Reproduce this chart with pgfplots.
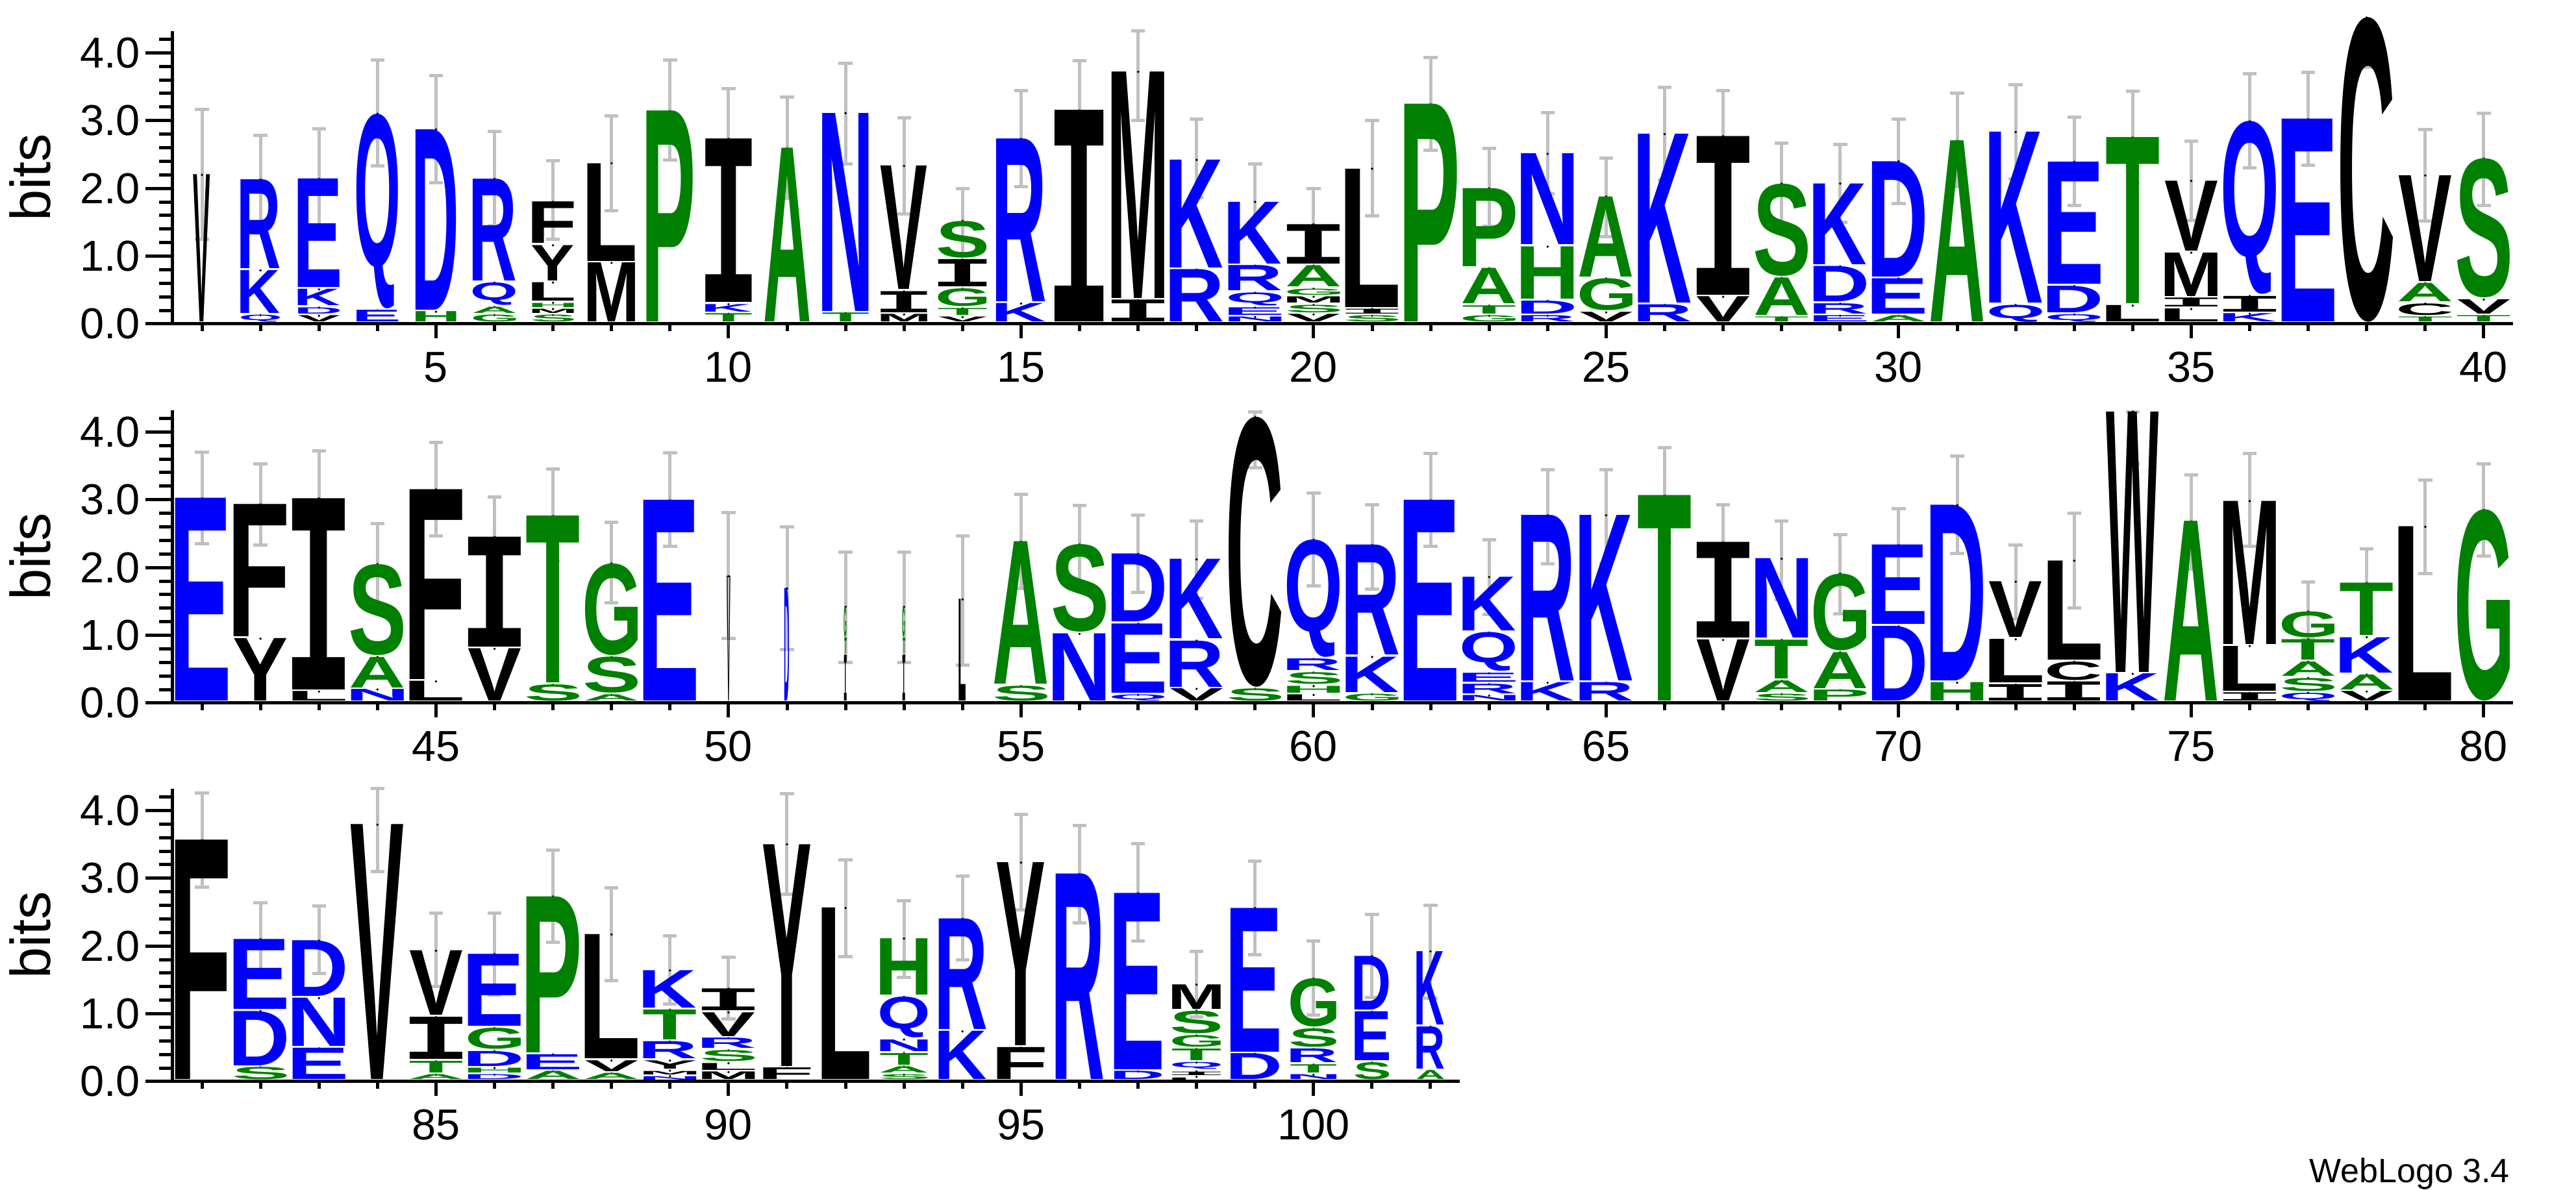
\documentclass[border=0pt]{standalone}
\usepackage{fontspec}
\setmainfont{Liberation Sans}
\newfontfamily\logofont{Liberation Sans}
\newfontfamily\logomono{Liberation Mono}
\usepackage{graphicx}
\usepackage{pgfplots}
\usepackage{pgfplotstable}
\pgfplotsset{compat=1.18}

\definecolor{lgreen}{RGB}{0,128,0}
\definecolor{lblue}{RGB}{0,0,255}
\definecolor{lblack}{RGB}{0,0,0}
\definecolor{ebgray}{RGB}{192,192,192}
\colorlet{lcA}{lgreen}\colorlet{lcG}{lgreen}\colorlet{lcH}{lgreen}
\colorlet{lcP}{lgreen}\colorlet{lcS}{lgreen}\colorlet{lcT}{lgreen}
\colorlet{lcD}{lblue}\colorlet{lcE}{lblue}\colorlet{lcK}{lblue}
\colorlet{lcN}{lblue}\colorlet{lcQ}{lblue}\colorlet{lcR}{lblue}
\colorlet{lcC}{lblack}\colorlet{lcF}{lblack}\colorlet{lcI}{lblack}
\colorlet{lcL}{lblack}\colorlet{lcM}{lblack}\colorlet{lcV}{lblack}
\colorlet{lcW}{lblack}\colorlet{lcY}{lblack}

\newlength\bitunit \setlength\bitunit{15.66pt}
\newlength\colw \setlength\colw{12.15pt}
\newsavebox\LLbox
% one stretched letter: letter, width factor, height (bits)
\newcommand\LL[3]{%
  \begingroup
  \ifx I#1\logomono\else\logofont\fi\bfseries
  \color{lc#1}%
  \sbox\LLbox{\kern-\XeTeXglyphbounds1 \XeTeXcharglyph`#1\relax #1\kern-\XeTeXglyphbounds3 \XeTeXcharglyph`#1\relax}%
  \resizebox*{#2\colw}{\dimexpr#3\bitunit-0.45pt\relax}{\usebox\LLbox}%
  \endgroup}
% one letter of a stack: position, top of letter (bits), letter, width factor, height (bits)
\newcommand\LT[5]{\addplot[lt, nodes near coords={\LL{#3}{#4}{#5}}] coordinates {(#1,#2)};}

% error bars: position, centre, half length (bits)
\pgfplotstableread{
x y e
1 2.21 0.96
2 2.13 0.65
3 2.155 0.725
4 3.11 0.78
5 2.87 0.79
6 2.145 0.695
7 1.83 0.58
8 2.37 0.70
9 3.155 0.735
10 2.73 0.74
11 2.60 0.75
12 3.105 0.745
13 2.33 0.71
14 1.515 0.485
15 2.735 0.705
16 3.165 0.715
17 3.66 0.66
18 2.44 0.58
19 1.815 0.545
20 1.495 0.505
21 2.295 0.705
22 3.245 0.685
23 2.015 0.575
24 2.52 0.60
25 1.87 0.58
26 2.805 0.685
27 2.775 0.665
28 2.075 0.595
29 2.075 0.575
30 2.40 0.62
31 2.715 0.685
32 2.835 0.695
33 2.40 0.65
34 2.75 0.68
35 2.115 0.585
36 2.995 0.695
37 3.025 0.685
38 4.05 0.26
39 2.195 0.675
40 2.43 0.68
}\eA

\pgfplotstableread{
x y e
41 3.025 0.675
42 2.93 0.60
43 3.025 0.695
44 2.055 0.595
45 3.16 0.69
46 2.455 0.585
47 2.77 0.68
48 2.075 0.595
49 3.00 0.69
50 1.88 0.93
51 1.695 0.905
52 1.415 0.815
53 1.415 0.815
54 1.515 0.955
55 2.385 0.695
56 2.345 0.575
57 2.20 0.57
58 2.12 0.57
59 3.885 0.415
60 2.415 0.685
61 2.305 0.625
62 2.995 0.685
63 1.86 0.55
64 2.745 0.695
65 2.745 0.695
66 3.07 0.70
67 2.36 0.57
68 2.11 0.58
69 1.905 0.585
70 2.315 0.555
71 2.925 0.715
72 1.785 0.545
73 2.10 0.70
74 3.915 0.385
75 2.675 0.695
76 2.995 0.685
77 1.365 0.425
78 1.765 0.505
79 2.60 0.69
80 2.85 0.68
}\eB

\pgfplotstableread{
x y e
81 3.565 0.695
82 2.095 0.545
83 2.09 0.50
84 3.71 0.61
85 1.945 0.545
86 1.885 0.605
87 2.73 0.68
88 2.175 0.685
89 1.645 0.505
90 1.375 0.455
91 3.505 0.745
92 2.555 0.715
93 2.105 0.565
94 2.415 0.615
95 3.235 0.705
96 3.06 0.72
97 2.79 0.72
98 1.435 0.485
99 2.56 0.69
100 1.525 0.545
101 1.855 0.615
102 1.915 0.685
}\eC

\pgfplotsset{
  logoaxis/.style={
    anchor=south west, scale only axis, height=67.65pt,
    ymin=0, ymax=4.32, clip=false,
    axis x line*=bottom, axis y line*=left,
    axis line style={line width=0.75pt, black},
    ytick={0,1,2,3,4}, yticklabels={0.0,1.0,2.0,3.0,4.0},
    minor ytick={0,0.2,...,4.21},
    tick align=outside,
    major tick length=6.3pt, minor tick length=3.15pt,
    xtick style={/pgfplots/major tick length=3.3pt,/pgfplots/minor tick length=1.7pt},
    tick style={line width=0.75pt, black},
    ticklabel style={font=\fontsize{10}{10}\selectfont},
    /pgf/number format/assume math mode=true,
    xticklabel style={inner sep=0pt},
    yticklabel style={inner sep=0pt, xshift=-1pt},
    ylabel={bits},
    every axis y label/.style={rotate=90, anchor=south, font=\fontsize{13}{13}\selectfont},
  },
  lt/.style={
    only marks, mark=*, mark size=0.01pt, mark options={draw=none, fill=none},
    every node near coord/.append style={anchor=north, inner sep=0pt, outer sep=0pt},
  },
  ebars/.style={
    draw=none, mark=none,
    error bars/.cd, y dir=both, y explicit, error mark=-,
    error bar style={draw=ebgray, line width=0.75pt},
    error mark options={rotate=90, draw=ebgray, line width=0.75pt, mark size=1.6pt},
  },
}

\begin{document}
\begin{tikzpicture}
\useasboundingbox (0,0) rectangle (595.05pt,274.95pt);

\begin{axis}[logoaxis, at={(39.9pt,200.1pt)}, width=540.6pt,
  xmin=0.5, xmax=40.5, xtick={5,10,...,40}, minor xtick={1,...,40},
  ylabel style={at={(axis description cs:-0.0455,0.5)}}]
\LT{1}{2.20}{V}{0.32}{2.20}
\LT{2}{0.13}{Q}{0.74}{0.13}
\LT{2}{0.79}{K}{0.74}{0.66}
\LT{2}{2.13}{R}{0.74}{1.34}
\LT{3}{0.12}{V}{0.79}{0.12}
\LT{3}{0.24}{D}{0.79}{0.12}
\LT{3}{0.51}{K}{0.79}{0.27}
\LT{3}{2.14}{E}{0.79}{1.63}
\LT{4}{0.20}{E}{0.79}{0.20}
\LT{4}{3.10}{Q}{0.79}{2.90}
\LT{5}{0.18}{H}{0.77}{0.18}
\LT{5}{2.87}{D}{0.77}{2.69}
\LT{6}{0.13}{G}{0.81}{0.13}
\LT{6}{0.25}{A}{0.81}{0.12}
\LT{6}{0.61}{Q}{0.81}{0.36}
\LT{6}{2.14}{R}{0.81}{1.53}
\LT{7}{0.13}{S}{0.79}{0.13}
\LT{7}{0.22}{M}{0.79}{0.09}
\LT{7}{0.31}{H}{0.79}{0.09}
\LT{7}{0.61}{L}{0.79}{0.30}
\LT{7}{1.16}{Y}{0.79}{0.55}
\LT{7}{1.80}{F}{0.79}{0.64}
\LT{8}{0.90}{M}{0.90}{0.90}
\LT{8}{2.37}{L}{0.90}{1.47}
\LT{9}{3.14}{P}{0.88}{3.14}
\LT{10}{0.15}{T}{0.88}{0.15}
\LT{10}{0.29}{K}{0.88}{0.14}
\LT{10}{2.73}{I}{0.88}{2.44}
\LT{11}{2.59}{A}{0.85}{2.59}
\LT{12}{0.16}{T}{0.88}{0.16}
\LT{12}{3.11}{N}{0.88}{2.95}
\LT{13}{0.14}{M}{0.88}{0.14}
\LT{13}{0.48}{I}{0.88}{0.34}
\LT{13}{2.33}{V}{0.88}{1.85}
\LT{14}{0.10}{V}{0.92}{0.10}
\LT{14}{0.23}{T}{0.92}{0.13}
\LT{14}{0.52}{G}{0.92}{0.29}
\LT{14}{0.95}{I}{0.92}{0.43}
\LT{14}{1.52}{S}{0.92}{0.57}
\LT{15}{0.30}{K}{0.93}{0.30}
\LT{15}{2.73}{R}{0.93}{2.43}
\LT{16}{3.15}{I}{0.93}{3.15}
\LT{17}{0.35}{I}{1}{0.35}
\LT{17}{3.72}{M}{1}{3.37}
\LT{18}{0.80}{R}{1}{0.80}
\LT{18}{2.42}{K}{1}{1.62}
\LT{19}{0.10}{N}{1}{0.10}
\LT{19}{0.24}{E}{1}{0.14}
\LT{19}{0.46}{Q}{1}{0.22}
\LT{19}{0.86}{R}{1}{0.40}
\LT{19}{1.80}{K}{1}{0.94}
\LT{20}{0.14}{V}{1}{0.14}
\LT{20}{0.28}{S}{1}{0.14}
\LT{20}{0.40}{M}{1}{0.12}
\LT{20}{0.52}{G}{1}{0.12}
\LT{20}{0.86}{A}{1}{0.34}
\LT{20}{1.47}{I}{1}{0.61}
\LT{21}{0.12}{S}{1}{0.12}
\LT{21}{0.22}{I}{1}{0.10}
\LT{21}{2.29}{L}{1}{2.07}
\LT{22}{3.24}{P}{1}{3.24}
\LT{23}{0.12}{G}{1}{0.12}
\LT{23}{0.27}{T}{1}{0.15}
\LT{23}{0.82}{A}{1}{0.55}
\LT{23}{2.00}{P}{1}{1.18}
\LT{24}{0.12}{R}{1}{0.12}
\LT{24}{0.34}{D}{1}{0.22}
\LT{24}{1.14}{H}{1}{0.80}
\LT{24}{2.51}{N}{1}{1.37}
\LT{25}{0.17}{V}{1}{0.17}
\LT{25}{0.67}{G}{1}{0.50}
\LT{25}{1.88}{A}{1}{1.21}
\LT{26}{0.28}{R}{1}{0.28}
\LT{26}{2.80}{K}{1}{2.52}
\LT{27}{0.40}{V}{1}{0.40}
\LT{27}{2.77}{I}{1}{2.37}
\LT{28}{0.10}{T}{1}{0.10}
\LT{28}{0.68}{A}{1}{0.58}
\LT{28}{2.07}{S}{1}{1.39}
\LT{29}{0.12}{E}{1}{0.12}
\LT{29}{0.30}{R}{1}{0.18}
\LT{29}{0.85}{D}{1}{0.55}
\LT{29}{2.07}{K}{1}{1.22}
\LT{30}{0.12}{A}{1}{0.12}
\LT{30}{0.67}{E}{1}{0.55}
\LT{30}{2.40}{D}{1}{1.73}
\LT{31}{2.70}{A}{1}{2.70}
\LT{32}{0.28}{Q}{1}{0.28}
\LT{32}{2.83}{K}{1}{2.55}
\LT{33}{0.14}{Q}{1}{0.14}
\LT{33}{0.56}{D}{1}{0.42}
\LT{33}{2.39}{E}{1}{1.83}
\LT{34}{0.27}{L}{1}{0.27}
\LT{34}{2.75}{T}{1}{2.48}
\LT{35}{0.22}{L}{1}{0.22}
\LT{35}{0.38}{I}{1}{0.16}
\LT{35}{1.05}{M}{1}{0.67}
\LT{35}{2.11}{V}{1}{1.06}
\LT{36}{0.15}{K}{1}{0.15}
\LT{36}{0.41}{I}{1}{0.26}
\LT{36}{2.99}{Q}{1}{2.58}
\LT{37}{3.02}{E}{1}{3.02}
\LT{38}{4.52}{C}{1}{4.52}
\LT{39}{0.10}{T}{1}{0.10}
\LT{39}{0.30}{C}{1}{0.20}
\LT{39}{0.60}{A}{1}{0.30}
\LT{39}{2.19}{V}{1}{1.59}
\LT{40}{0.12}{T}{1}{0.12}
\LT{40}{0.36}{V}{1}{0.24}
\LT{40}{2.44}{S}{1}{2.08}
\addplot[ebars] table[x=x, y=y, y error=e] {\eA};
\end{axis}

\begin{axis}[logoaxis, at={(39.9pt,112.5pt)}, width=540.6pt,
  xmin=40.5, xmax=80.5, xtick={45,50,...,80}, minor xtick={41,...,80},
  ylabel style={at={(axis description cs:-0.0455,0.5)}}]
\LT{41}{3.02}{E}{1}{3.02}
\LT{42}{0.95}{Y}{1}{0.95}
\LT{42}{2.93}{F}{1}{1.98}
\LT{43}{0.17}{L}{1}{0.17}
\LT{43}{3.02}{I}{1}{2.85}
\LT{44}{0.20}{N}{1}{0.20}
\LT{44}{0.68}{A}{1}{0.48}
\LT{44}{2.05}{S}{1}{1.37}
\LT{45}{0.32}{L}{1}{0.32}
\LT{45}{3.15}{F}{1}{2.83}
\LT{46}{0.80}{V}{1}{0.80}
\LT{46}{2.45}{I}{1}{1.65}
\LT{47}{0.27}{S}{1}{0.27}
\LT{47}{2.76}{T}{1}{2.49}
\LT{48}{0.12}{A}{1}{0.12}
\LT{48}{0.68}{S}{1}{0.56}
\LT{48}{2.06}{G}{1}{1.38}
\LT{49}{2.99}{E}{1}{2.99}
\LT{50}{1.87}{V}{0.07}{1.87}
\LT{51}{1.69}{D}{0.09}{1.69}
\LT{52}{0.70}{I}{0.05}{0.70}
\LT{52}{0.95}{T}{0.05}{0.25}
\LT{52}{1.42}{G}{0.05}{0.47}
\LT{53}{0.70}{I}{0.05}{0.70}
\LT{53}{0.95}{T}{0.05}{0.25}
\LT{53}{1.42}{G}{0.05}{0.47}
\LT{54}{1.53}{L}{0.13}{1.53}
\LT{55}{0.25}{S}{1}{0.25}
\LT{55}{2.38}{A}{1}{2.13}
\LT{56}{1.02}{N}{1}{1.02}
\LT{56}{2.34}{S}{1}{1.32}
\LT{57}{0.12}{Q}{1}{0.12}
\LT{57}{1.17}{E}{1}{1.05}
\LT{57}{2.20}{D}{1}{1.03}
\LT{58}{0.21}{V}{1}{0.21}
\LT{58}{0.92}{R}{1}{0.71}
\LT{58}{2.12}{K}{1}{1.20}
\LT{59}{0.21}{S}{1}{0.21}
\LT{59}{4.22}{C}{1}{4.01}
\LT{60}{0.12}{L}{1}{0.12}
\LT{60}{0.25}{H}{1}{0.13}
\LT{60}{0.45}{S}{1}{0.20}
\LT{60}{0.65}{R}{1}{0.20}
\LT{60}{2.41}{Q}{1}{1.76}
\LT{61}{0.13}{G}{1}{0.13}
\LT{61}{0.68}{K}{1}{0.55}
\LT{61}{2.33}{R}{1}{1.65}
\LT{62}{2.99}{E}{1}{2.99}
\LT{63}{0.11}{N}{1}{0.11}
\LT{63}{0.28}{R}{1}{0.17}
\LT{63}{0.44}{E}{1}{0.16}
\LT{63}{1.04}{Q}{1}{0.60}
\LT{63}{1.86}{K}{1}{0.82}
\LT{64}{0.30}{K}{1}{0.30}
\LT{64}{2.77}{R}{1}{2.47}
\LT{65}{0.30}{R}{1}{0.30}
\LT{65}{2.77}{K}{1}{2.47}
\LT{66}{3.06}{T}{1}{3.06}
\LT{67}{0.93}{V}{1}{0.93}
\LT{67}{2.37}{I}{1}{1.44}
\LT{68}{0.13}{S}{1}{0.13}
\LT{68}{0.33}{A}{1}{0.20}
\LT{68}{0.93}{T}{1}{0.60}
\LT{68}{2.13}{N}{1}{1.20}
\LT{69}{0.19}{P}{1}{0.19}
\LT{69}{0.75}{A}{1}{0.56}
\LT{69}{1.91}{G}{1}{1.16}
\LT{70}{1.13}{D}{1}{1.13}
\LT{70}{2.33}{E}{1}{1.20}
\LT{71}{0.30}{H}{1}{0.30}
\LT{71}{2.92}{D}{1}{2.62}
\LT{72}{0.27}{I}{1}{0.27}
\LT{72}{0.94}{L}{1}{0.67}
\LT{72}{1.79}{V}{1}{0.85}
\LT{73}{0.31}{I}{1}{0.31}
\LT{73}{0.61}{C}{1}{0.30}
\LT{73}{2.10}{L}{1}{1.49}
\LT{74}{0.43}{K}{1}{0.43}
\LT{74}{4.30}{W}{1}{3.87}
\LT{75}{2.68}{A}{1}{2.68}
\LT{76}{0.15}{I}{1}{0.15}
\LT{76}{0.84}{L}{1}{0.69}
\LT{76}{2.98}{M}{1}{2.14}
\LT{77}{0.15}{Q}{1}{0.15}
\LT{77}{0.37}{S}{1}{0.22}
\LT{77}{0.61}{A}{1}{0.24}
\LT{77}{0.94}{T}{1}{0.33}
\LT{77}{1.35}{G}{1}{0.41}
\LT{78}{0.17}{V}{1}{0.17}
\LT{78}{0.42}{A}{1}{0.25}
\LT{78}{0.97}{K}{1}{0.55}
\LT{78}{1.77}{T}{1}{0.80}
\LT{79}{2.60}{L}{1}{2.60}
\LT{80}{2.85}{G}{1}{2.85}
\addplot[ebars] table[x=x, y=y, y error=e] {\eB};
\end{axis}

\begin{axis}[logoaxis, at={(39.9pt,25.05pt)}, width=297.3pt,
  xmin=80.5, xmax=102.5, xtick={85,90,95,100}, minor xtick={81,...,102},
  ylabel style={at={(axis description cs:-0.0827,0.5)}}]
\LT{81}{3.56}{F}{1}{3.56}
\LT{82}{0.21}{S}{1}{0.21}
\LT{82}{1.04}{D}{1}{0.83}
\LT{82}{2.10}{E}{1}{1.06}
\LT{83}{0.49}{E}{1}{0.49}
\LT{83}{1.23}{N}{1}{0.74}
\LT{83}{2.08}{D}{1}{0.85}
\LT{84}{3.79}{V}{1}{3.79}
\LT{85}{0.10}{A}{1}{0.10}
\LT{85}{0.30}{T}{1}{0.20}
\LT{85}{0.95}{I}{1}{0.65}
\LT{85}{1.93}{V}{1}{0.98}
\LT{86}{0.10}{D}{1}{0.10}
\LT{86}{0.20}{H}{1}{0.10}
\LT{86}{0.45}{D}{1}{0.25}
\LT{86}{0.79}{G}{1}{0.34}
\LT{86}{1.88}{E}{1}{1.09}
\LT{87}{0.15}{A}{1}{0.15}
\LT{87}{0.40}{E}{1}{0.25}
\LT{87}{2.73}{P}{1}{2.33}
\LT{88}{0.12}{A}{1}{0.12}
\LT{88}{0.31}{V}{1}{0.19}
\LT{88}{2.17}{L}{1}{1.86}
\LT{89}{0.08}{N}{1}{0.08}
\LT{89}{0.16}{M}{1}{0.08}
\LT{89}{0.31}{Y}{1}{0.15}
\LT{89}{0.59}{R}{1}{0.28}
\LT{89}{1.06}{T}{1}{0.47}
\LT{89}{1.64}{K}{1}{0.58}
\LT{90}{0.14}{M}{1}{0.14}
\LT{90}{0.27}{L}{1}{0.13}
\LT{90}{0.46}{S}{1}{0.19}
\LT{90}{0.64}{R}{1}{0.18}
\LT{90}{1.02}{V}{1}{0.38}
\LT{90}{1.37}{I}{1}{0.35}
\LT{91}{0.20}{F}{0.9}{0.20}
\LT{91}{3.50}{Y}{0.9}{3.30}
\LT{92}{2.56}{L}{0.9}{2.56}
\LT{93}{0.10}{S}{0.9}{0.10}
\LT{93}{0.22}{A}{0.9}{0.12}
\LT{93}{0.42}{T}{0.9}{0.20}
\LT{93}{0.62}{N}{0.9}{0.20}
\LT{93}{1.25}{Q}{0.9}{0.63}
\LT{93}{2.11}{H}{0.9}{0.86}
\LT{94}{0.74}{K}{0.9}{0.74}
\LT{94}{2.40}{R}{0.9}{1.66}
\LT{95}{0.50}{F}{0.9}{0.50}
\LT{95}{3.23}{Y}{0.9}{2.73}
\LT{96}{3.06}{R}{0.9}{3.06}
\LT{97}{0.15}{D}{0.9}{0.15}
\LT{97}{2.78}{E}{0.9}{2.63}
\LT{98}{0.07}{L}{0.92}{0.07}
\LT{98}{0.15}{I}{0.92}{0.08}
\LT{98}{0.28}{Q}{0.92}{0.13}
\LT{98}{0.48}{T}{0.92}{0.20}
\LT{98}{0.68}{G}{0.92}{0.20}
\LT{98}{1.04}{S}{0.92}{0.36}
\LT{98}{1.43}{M}{0.92}{0.39}
\LT{99}{0.41}{D}{0.92}{0.41}
\LT{99}{2.56}{E}{0.92}{2.15}
\LT{100}{0.10}{N}{0.87}{0.10}
\LT{100}{0.25}{T}{0.87}{0.15}
\LT{100}{0.48}{R}{0.87}{0.23}
\LT{100}{0.78}{S}{0.87}{0.30}
\LT{100}{1.52}{G}{0.87}{0.74}
\LT{101}{0.28}{S}{0.65}{0.28}
\LT{101}{1.03}{E}{0.65}{0.75}
\LT{101}{1.85}{D}{0.65}{0.82}
\LT{102}{0.16}{A}{0.52}{0.16}
\LT{102}{0.81}{R}{0.52}{0.65}
\LT{102}{1.92}{K}{0.52}{1.11}
\addplot[ebars] table[x=x, y=y, y error=e] {\eC};
\end{axis}

\node[anchor=base east, inner sep=0pt, font=\fontsize{7.8}{9}\selectfont] at (579.9pt,1.65pt) {WebLogo 3.4};
\end{tikzpicture}
\end{document}
